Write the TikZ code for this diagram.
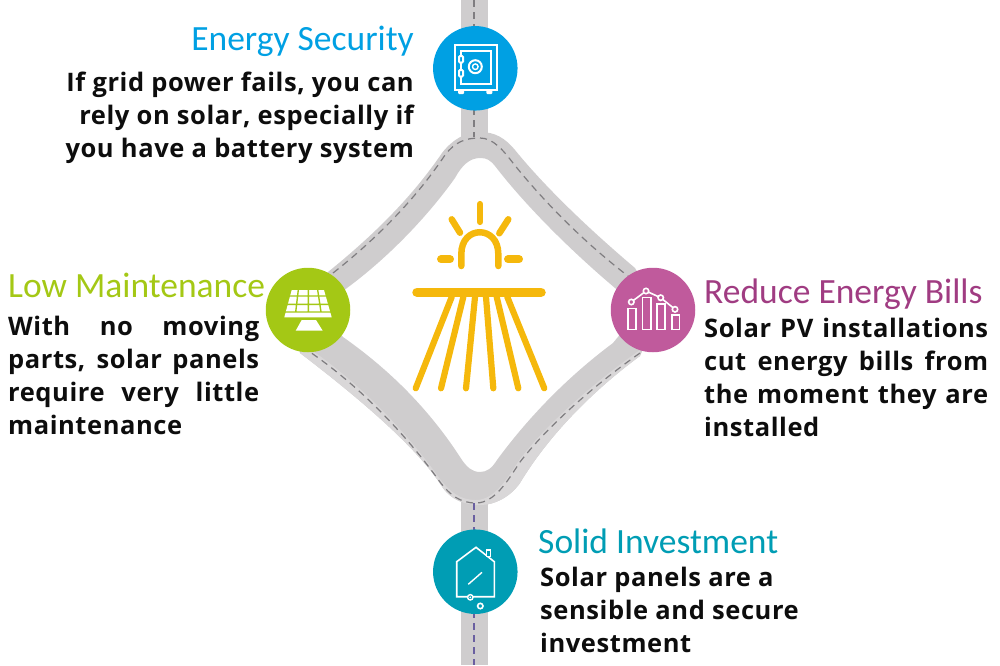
\documentclass[tikz,border=0pt]{standalone}
\usepackage{fontspec}
\setmainfont{Carlito}
\newfontfamily\bodyfont[LetterSpace=2.3]{Open Sans}
\definecolor{road}{HTML}{CFCDCE}
\definecolor{roadlight}{HTML}{D9D7D8}
\definecolor{dashgray}{HTML}{7F7D80}
\definecolor{dashpurple}{HTML}{6A5FA0}
\definecolor{cblue}{HTML}{00A0E3}
\definecolor{cgreen}{HTML}{A4C815}
\definecolor{cpink}{HTML}{C05A9C}
\definecolor{cteal}{HTML}{009DB4}
\definecolor{tpink}{HTML}{A03C82}
\definecolor{sun}{HTML}{F5B80C}
\tikzset{
  dashline/.style={draw=dashgray,line width=1.2pt,dash pattern=on 7pt off 5pt},
  badge/.style={circle,minimum size=84.5pt,inner sep=0pt,draw=none},
  heading/.style={font=\fontsize{35.5}{35.5}\selectfont,inner sep=0pt},
  para/.style={font=\fontsize{25.5}{33}\bodyfont\bfseries,inner sep=0pt,align=left,text=black!95},
  rpara/.style={font=\fontsize{25.5}{33}\bodyfont\bfseries,inner sep=0pt,align=right,text=black!95},
  icon/.style={draw=white,line width=2pt,fill=none},
  ray/.style={draw=sun,line cap=round,line width=6.2pt},
}
\newcommand{\jl}[2]{\hbox to #1pt{\def\ {\hfil}#2}}
\begin{document}
\begin{tikzpicture}[x=1pt,y=-1pt]
\useasboundingbox (0,0) rectangle (1000,665);
% vertical road stubs
\fill[road] (461,0) rectangle (488,150);
\fill[road] (461,490) rectangle (488,665);
% road ring
\fill[road,even odd rule]
  (480,132) .. controls (495,132) and (505,138) .. (515,150)
  .. controls (545,187) and (590,230) .. (635,268)
  -- (660,310) -- (640,356)
  .. controls (603,383) and (553,428) .. (520,483)
  .. controls (510,497) and (495,505) .. (480,505)
  .. controls (465,505) and (450,500) .. (441,485)
  .. controls (415,445) and (355,395) .. (300,353)
  -- (290,315) -- (328,272)
  .. controls (370,238) and (410,200) .. (442,153)
  .. controls (452,140) and (465,132) .. (480,132) -- cycle
  (480,158) .. controls (487,158) and (490,160) .. (495,166)
  .. controls (525,205) and (570,250) .. (615,288)
  -- (640,310) -- (613,343)
  .. controls (570,375) and (530,415) .. (497,460)
  .. controls (492,468) and (487,472) .. (480,472)
  .. controls (472,472) and (467,467) .. (462,460)
  .. controls (430,410) and (390,370) .. (343,337)
  -- (320,310) -- (347,288)
  .. controls (385,260) and (425,220) .. (455,178)
  .. controls (462,165) and (470,158) .. (480,158) -- cycle;
% light outer strip of the lower road
\fill[roadlight] (640,356)
  .. controls (603,383) and (553,428) .. (520,483)
  .. controls (510,497) and (495,505) .. (480,505)
  .. controls (465,505) and (450,500) .. (441,485)
  .. controls (415,445) and (355,395) .. (300,353)
  -- (310,349)
  .. controls (365,387) and (410,437) .. (440,479)
  .. controls (450,492) and (460,500) .. (476,500)
  .. controls (495,500) and (508,477) .. (520,459)
  .. controls (550,420) and (600,378) .. (640,350) -- cycle;
% dashes
\draw[dashline] (474,0) -- (474,137);
\draw[dashline,draw=dashpurple] (474,503) -- (474,665);
\draw[dashline] (333,273) .. controls (375,240) and (415,200) .. (445,155)
  .. controls (455,142) and (465,138) .. (480,138)
  .. controls (493,138) and (503,150) .. (513,163)
  .. controls (540,197) and (585,245) .. (640,285);
\draw[dashline] (640,353) .. controls (600,381) and (550,423) .. (520,462)
  .. controls (508,480) and (495,503) .. (476,503)
  .. controls (460,503) and (450,495) .. (440,482)
  .. controls (410,440) and (365,390) .. (310,352);
% badges
\node[badge,fill=cblue] (safe) at (475.3,68.3) {};
\node[badge,fill=cgreen] (panel) at (308,310) {};
\node[badge,fill=cpink] (chart) at (653,310) {};
\node[badge,fill=cteal] (house) at (475.3,571.7) {};
% safe icon
\draw[icon] (454.5,44.5) rectangle (496.5,89.5);
\draw[icon] (460.5,51) rectangle (490.5,83.5);
\draw[icon] (475.3,66.7) circle (6.5pt);
\draw[icon,line width=1.4pt] (475.3,66.7) circle (2.8pt);
\draw[icon,fill=cblue,rounded corners=1pt] (459,56) rectangle (463,62.5);
\draw[icon,fill=cblue,rounded corners=1pt] (459,70) rectangle (463,76.5);
\fill[white,rounded corners=1pt] (458,89.5) rectangle (464,94);
\fill[white,rounded corners=1pt] (486.3,89.5) rectangle (492.3,94);
% panel icon
\fill[white] (291.7,290) -- (324,290) -- (331.7,317.3) -- (284.3,317.3) -- cycle;
\draw[cgreen,line width=1.4pt] (298.3,290) -- (295.7,312) (308.3,290) -- (308.3,312) (317.7,290) -- (321,312)
  (284,296) -- (332,296) (284,304.3) -- (332,304.3) (284,312) -- (332,312);
\fill[white] (301.7,320) -- (316,320) -- (322.7,330.7) -- (295.7,330.7) -- cycle;
% chart icon
\draw[icon,line width=1.6pt] (627.7,308.3) rectangle (635.7,329.3);
\draw[icon,line width=1.6pt] (642.3,297.3) rectangle (650.7,329.3);
\draw[icon,line width=1.6pt] (656.7,304) rectangle (665,329.3);
\draw[icon,line width=1.6pt] (671.7,315) rectangle (679.3,329.3);
\draw[icon,line width=1.6pt] (631.3,302) -- (646,291) -- (660.7,297.7) -- (675,309.3);
\foreach \p/\q in {631.3/302,646/291,660.7/297.7,675/309.3}
  \draw[icon,line width=1.6pt,fill=cpink] (\p,\q) circle (2.7pt);
% house icon
\draw[icon,line width=1.6pt] (456.7,596.7) -- (456.7,561.7) -- (476,547.3) -- (494.3,561.7) -- (494.3,596.7) -- cycle;
\draw[icon,line width=1.4pt,fill=cteal] (486.3,550) rectangle (490.3,556.7);
\draw[icon,line width=1.4pt] (468.3,584.3) -- (482,572.3);
\draw[icon,line width=1.4pt,fill=cteal] (470.3,597.3) circle (2.7pt);
\fill[white] (470.3,597.3) circle (1pt);
\draw[icon,line width=1.6pt,fill=cteal] (480.3,606) circle (2.7pt);
% sun
\draw[ray,line width=6.5pt] (461.3,266) -- (461.3,254) .. controls (461.3,225) and (498.3,225) .. (498.3,254) -- (498.3,266);
\draw[ray] (480,204) -- (480,222);
\draw[ray,line width=6.5pt] (451.7,219.3) -- (460,232.7);
\draw[ray,line width=6.5pt] (508.3,219.3) -- (499.3,233.3);
\draw[ray,line width=8pt] (441,259.3) -- (450,259.3);
\draw[ray,line width=8pt] (508,259.3) -- (519,259.3);
\draw[ray,line width=9.5pt] (417,292.3) -- (541,292.3);
\draw[ray] (451.7,297) -- (415.7,388.3);
\draw[ray] (463.3,297) -- (441,388.3);
\draw[ray] (475,297) -- (466,388.3);
\draw[ray] (486,297) -- (493.3,388.3);
\draw[ray] (496.7,297) -- (518.3,388.3);
\draw[ray] (507.3,297) -- (544.3,388.3);
% text
\node[heading,text=cblue,anchor=base east] (t1) at (414,50) {Energy Security};
\node[rpara,anchor=north east] (b1) at (414,72) {If grid power fails, you can\\rely on solar, especially if\\you have a battery system};
\node[heading,text=cgreen,anchor=base west] (t2) at (8,297) {Low Maintenance};
\node[para,anchor=north west] (b2) at (8,316) {\jl{251}{With no moving}\\\jl{251}{parts, solar panels}\\\jl{251}{require very little}\\maintenance};
\node[heading,text=tpink,anchor=base west] (t3) at (704,303) {Reduce Energy Bills};
\node[para,anchor=north west] (b3) at (704,318) {\jl{284}{Solar PV installations}\\\jl{284}{cut energy bills from}\\\jl{284}{the moment they are}\\installed};
\node[heading,text=cteal,anchor=base west] (t4) at (538,553) {Solid Investment};
\node[para,anchor=north west] (b4) at (540,567) {Solar panels are a\\sensible and secure\\investment};
\end{tikzpicture}
\end{document}
